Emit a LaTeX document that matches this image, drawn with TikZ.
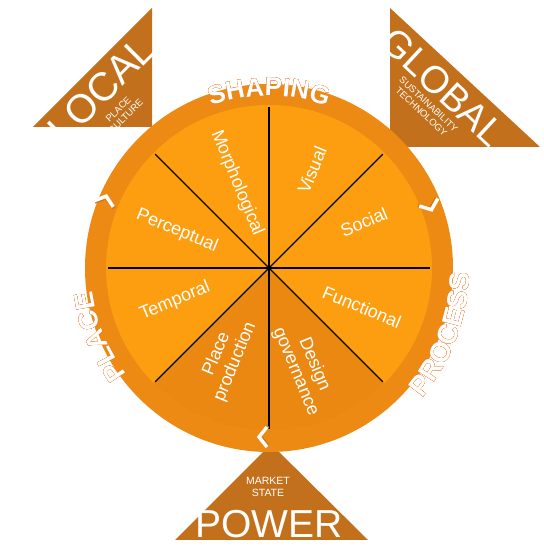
\documentclass[tikz,border=0pt]{standalone}
\usepackage{fontspec}
\setmainfont{Liberation Sans}
\usetikzlibrary{decorations.text}
\definecolor{ringc}{HTML}{EC8A13}
\definecolor{innerc}{HTML}{FC9E10}
\definecolor{darkc}{HTML}{EA8812}
\definecolor{brownc}{HTML}{C2701C}
\definecolor{olinec}{HTML}{E8782A}
\newcommand\arcfnt{}
\newcommand\arctext[5]{%
  \path[decorate,decoration={text along path,text align=center,text={|\color{#1}\arcfnt|#2}}]
    ([shift={(#3:#5)}]C) arc[start angle=#3,end angle=#4,radius=#5];}
\newcommand\outlinedarc[4]{%
  \foreach \a in {0,45,...,315}{\begin{scope}[shift={(\a:1.1pt)}]\arctext{olinec}{#1}{#2}{#3}{#4}\end{scope}}%
  \arctext{white}{#1}{#2}{#3}{#4}}
\tikzset{
  tri/.style={fill=brownc},
  bigtxt/.style={text=white,inner sep=0pt},
  smalltxt/.style={text=white,inner sep=0pt,align=center,font=\fontsize{9.5}{10.5}\selectfont},
  seclabel/.style={text=white,inner sep=0pt,align=center,font=\fontsize{18}{20}\selectfont},
  secline/.style={black,line width=1.2pt},
  chev/.style={white,line width=3.5pt,line join=miter},
  chevshadow/.style={brownc!70!ringc,line width=3.5pt,line join=miter}
}
\begin{document}
\begin{tikzpicture}[x=1pt,y=1pt]
\useasboundingbox (0,0) rectangle (543,548);
\coordinate (C) at (269,280);
% triangles
\fill[tri] (33,421) -- (152,540) -- (152,421) -- cycle;
\fill[tri] (390,540) -- (390,401) -- (540,401) -- cycle;
\fill[tri] (175,8) -- (271,104) -- (368,8) -- cycle;
\node[bigtxt,font=\fontsize{40}{40}\selectfont,rotate=45] (local) at (101,459) {LOCAL};
\node[smalltxt,rotate=45] (localsub) at (122,435) {PLACE\\CULTURE};
\node[bigtxt,font=\fontsize{38}{38}\selectfont,rotate=-43] (global) at (443,461) {GLOBAL};
\node[smalltxt,rotate=-43] (globalsub) at (425,440) {SUSTAINABILITY\\TECHNOLOGY};
\node[bigtxt,font=\fontsize{39}{39}\selectfont,anchor=base] (power) at (269,10) {POWER};
\node[smalltxt,font=\fontsize{10.5}{12.5}\selectfont] (powersub) at (268,61) {MARKET\\STATE};
% wheel
\fill[ringc] (C) circle[radius=184pt];
\fill[innerc] (C) circle[radius=163pt];
\fill[darkc] (C) -- ++(225:163pt) arc[start angle=225,end angle=315,radius=163pt] -- cycle;
\foreach \a in {0,45,...,315} \draw[secline] (C) -- ++(\a:161pt);
% sector labels
\node[seclabel,rotate=-67.5] (morph) at (237,365) {Morphological};
\node[seclabel,rotate=67.5] (visual) at (312,378) {Visual};
\node[seclabel,rotate=22.5] (social) at (364,326) {Social};
\node[seclabel,rotate=-22.5] (func) at (362,241) {Functional};
\node[seclabel,rotate=-67.5] (design) at (305,180) {Design\\governance};
\node[seclabel,rotate=67.5] (placeprod) at (226,190) {Place\\production};
\node[seclabel,rotate=22.5] (temporal) at (175,247) {Temporal};
\node[seclabel,rotate=-22.5] (percept) at (177,317) {Perceptual};
% chevrons
\foreach \p/\r in {{(105,348)}/72,{(430,342)}/-68,{(263,111)}/180}{
  \draw[chevshadow,shift={\p},rotate=\r,xshift=-1pt,yshift=-1pt] (-4pt,10pt) -- (4pt,0pt) -- (-4pt,-10pt);
  \draw[chev,shift={\p},rotate=\r] (-4pt,10pt) -- (4pt,0pt) -- (-4pt,-10pt);
}
% curved titles
\renewcommand\arcfnt{\fontsize{26}{26}\selectfont\bfseries}
\outlinedarc{SHAPING}{130}{50}{172pt}
\renewcommand\arcfnt{\fontsize{27}{27}\selectfont\bfseries}
\outlinedarc{PLACE}{242}{162}{178pt}
\renewcommand\arcfnt{\fontsize{28}{28}\selectfont\bfseries}
\outlinedarc{PROCESS}{-61}{19}{201pt}
\end{tikzpicture}
\end{document}
